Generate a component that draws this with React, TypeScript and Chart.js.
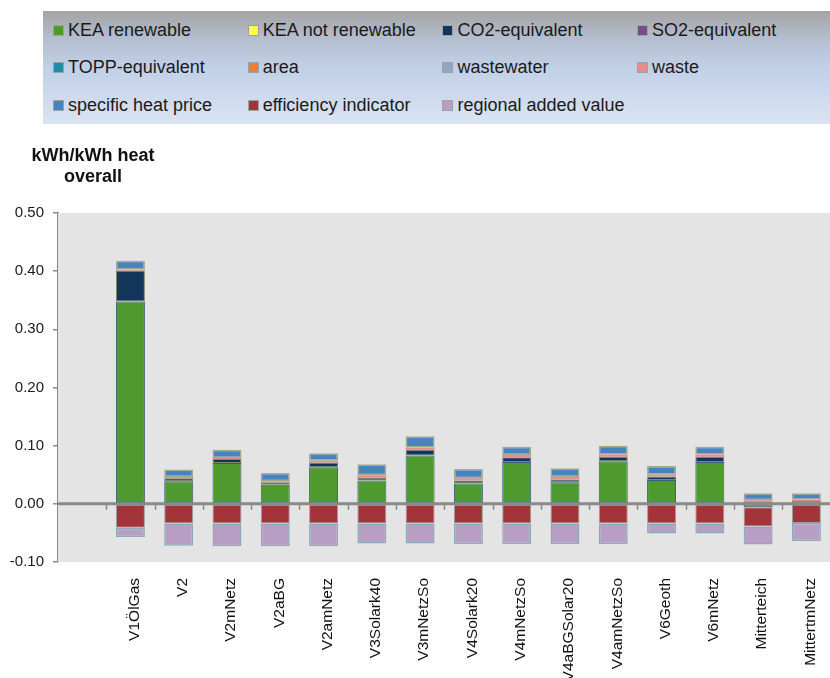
import React, { useEffect, useRef } from "react";
import { Chart, registerables } from "chart.js";

Chart.register(...registerables);

const FONT = "'Liberation Sans', Arial, Helvetica, sans-serif";

const categories = [
  "",
  "V1ÖlGas",
  "V2",
  "V2mNetz",
  "V2aBG",
  "V2amNetz",
  "V3Solark40",
  "V3mNetzSo",
  "V4Solark20",
  "V4mNetzSo",
  "V4aBGSolar20",
  "V4amNetzSo",
  "V6Geoth",
  "V6mNetz",
  "Mitterteich",
  "MittertmNetz",
];

const keaRenewable = [null, 0.348, 0.039, 0.07, 0.033, 0.063, 0.04, 0.083, 0.035, 0.072, 0.037, 0.073, 0.041, 0.072, -0.006, 0.002];
const keaNotRenewable = [null, 0, 0, 0, 0, 0, 0, 0, 0, 0, 0, 0, 0, 0, 0, 0];
const co2Equivalent = [null, 0.053, 0.005, 0.007, 0.004, 0.008, 0.005, 0.01, 0.005, 0.008, 0.005, 0.008, 0.006, 0.009, 0.003, 0.003];
const so2Equivalent = [null, 0, 0, 0, 0, 0, 0, 0, 0, 0, 0, 0, 0, 0, 0, 0];
const toppEquivalent = [null, 0, 0, 0, 0, 0, 0, 0, 0, 0, 0, 0, 0, 0, 0, 0];
const area = [null, 0, 0, 0, 0, 0, 0, 0, 0, 0, 0, 0, 0, 0, 0, 0];
const wastewater = [null, 0, 0, 0, 0, 0, 0, 0, 0, 0, 0, 0, 0, 0, 0, 0];
const waste = [null, 0.002, 0.002, 0.002, 0.002, 0.003, 0.004, 0.004, 0.004, 0.004, 0.004, 0.004, 0.003, 0.004, 0.003, 0.002];
const specificHeatPrice = [null, 0.015, 0.013, 0.014, 0.014, 0.013, 0.019, 0.019, 0.016, 0.014, 0.015, 0.015, 0.015, 0.013, 0.012, 0.011];
const efficiencyIndicator = [null, -0.041, -0.034, -0.034, -0.034, -0.034, -0.034, -0.034, -0.034, -0.034, -0.034, -0.034, -0.034, -0.034, -0.033, -0.033];
const regionalAddedValue = [null, -0.016, -0.038, -0.039, -0.039, -0.039, -0.034, -0.034, -0.035, -0.035, -0.035, -0.035, -0.017, -0.017, -0.031, -0.031];

const seriesNames = [
  "KEA renewable",
  "KEA not renewable",
  "CO2-equivalent",
  "SO2-equivalent",
  "TOPP-equivalent",
  "area",
  "wastewater",
  "waste",
  "specific heat price",
  "efficiency indicator",
  "regional added value",
];
const seriesValues = [
  keaRenewable,
  keaNotRenewable,
  co2Equivalent,
  so2Equivalent,
  toppEquivalent,
  area,
  wastewater,
  waste,
  specificHeatPrice,
  efficiencyIndicator,
  regionalAddedValue,
];
const seriesColors = [
  "#4e9a2f",
  "#ffff4a",
  "#12365a",
  "#774c8a",
  "#1f8fa3",
  "#e87f3b",
  "#8ea6c6",
  "#e58e8c",
  "#4683bf",
  "#a3353a",
  "#b89dc5",
];
const seriesBorders = [
  "#3f5f78",
  "#b5b58a",
  "#7f8a6a",
  "#939c7c",
  "#939c7c",
  "#939c7c",
  "#939c7c",
  "#d8a0a0",
  "#a3ab88",
  "#9a9ca4",
  "#8aacb6",
];
const seriesBorderWidths = [1, 0, 1, 0, 0, 0, 0, 0, 1.5, 1, 1.5];

const yTicks = [-0.1, 0.0, 0.1, 0.2, 0.3, 0.4, 0.5];
const yAxisTitle = ["kWh/kWh heat", "overall"];

const plotBgPlugin = {
  id: "plotBg",
  beforeDatasetsDraw(chart: any) {
    const { ctx, chartArea } = chart;
    ctx.save();
    ctx.fillStyle = "#e4e4e4";
    ctx.fillRect(chartArea.left, chartArea.top, chartArea.right - chartArea.left, chartArea.bottom - chartArea.top);
    ctx.restore();
  },
};

const zeroLinePlugin = {
  id: "zeroLine",
  afterDatasetsDraw(chart: any) {
    const { ctx, chartArea } = chart;
    const x = chart.scales.x;
    const y = chart.scales.y;
    const y0 = y.getPixelForValue(0);
    ctx.save();
    ctx.strokeStyle = "#8a8a8a";
    ctx.lineWidth = 1.5;
    const half = (x.getPixelForValue(1) - x.getPixelForValue(0)) / 2;
    for (let i = 1; i < categories.length; i++) {
      const px = Math.round(x.getPixelForValue(i) - half) + 0.5;
      ctx.beginPath();
      ctx.moveTo(px, y0);
      ctx.lineTo(px, y0 + 6);
      ctx.stroke();
    }
    ctx.lineWidth = 3;
    ctx.beginPath();
    ctx.moveTo(chartArea.left, y0);
    ctx.lineTo(chartArea.right, y0);
    ctx.stroke();
    ctx.restore();
  },
};

export default function App() {
  const canvasRef = useRef<HTMLCanvasElement | null>(null);

  useEffect(() => {
    if (!canvasRef.current) return;
    Chart.defaults.font.family = FONT;
    const chart = new Chart(canvasRef.current, {
      type: "bar",
      data: {
        labels: categories,
        datasets: seriesNames.map((name, i) => ({
          label: name,
          data: seriesValues[i] as any,
          backgroundColor: seriesColors[i],
          borderColor: seriesBorders[i],
          borderWidth: seriesBorderWidths[i],
          borderSkipped: false,
          barPercentage: 0.6,
          categoryPercentage: 1,
        })),
      },
      options: {
        responsive: false,
        animation: false,
        devicePixelRatio: 1,
        layout: { padding: { top: 213, left: 0, right: 0, bottom: 0 } },
        plugins: {
          legend: { display: false },
          tooltip: { enabled: false },
          title: { display: false },
        },
        scales: {
          x: {
            stacked: true,
            offset: true,
            grid: { display: false, drawTicks: false },
            border: { display: false },
            ticks: {
              autoSkip: false,
              maxRotation: 90,
              minRotation: 90,
              padding: 16,
              labelOffset: 4,
              color: "#111",
              font: { size: 15.5, family: FONT },
            },
            afterFit(scale: any) {
              scale.height = 116;
            },
          },
          y: {
            stacked: true,
            min: -0.1,
            max: 0.5,
            afterBuildTicks(scale: any) {
              scale.ticks = yTicks.map((v) => ({ value: v }));
            },
            grid: {
              drawOnChartArea: false,
              drawTicks: true,
              tickLength: 5,
              color: "#8a8a8a",
              lineWidth: 1.5,
            },
            border: { display: true, color: "#8a8a8a", width: 2 },
            ticks: {
              padding: 9,
              color: "#1a1a1a",
              font: { size: 15, family: FONT },
              callback: (v: any) => Number(v).toFixed(2),
            },
            afterFit(scale: any) {
              scale.width = 58;
            },
          },
        },
      },
      plugins: [plotBgPlugin, zeroLinePlugin],
    });
    return () => chart.destroy();
  }, []);

  return (
    <div
      style={{
        position: "absolute",
        left: 0,
        top: 0,
        width: 830,
        height: 678,
        overflow: "hidden",
        background: "#fff",
      }}
    >
      <canvas
        ref={canvasRef}
        width={841}
        height={678}
        style={{ position: "absolute", left: 0, top: 0, width: 841, height: 678 }}
      />
      <div
        style={{
          position: "absolute",
          left: 43,
          top: 11,
          width: 810,
          height: 113,
          background:
            "linear-gradient(to bottom, #a3a3a3 0%, #b3bccb 22%, #c0cfe6 48%, #cbd8ec 70%, #dae3f1 100%)",
          fontFamily: FONT,
          fontSize: 18,
          color: "#1a1a1a",
        }}
      >
        {seriesNames.map((name, i) => {
          const col = i % 4;
          const row = Math.floor(i / 4);
          return (
            <div
              key={name}
              style={{
                position: "absolute",
                left: 10 + col * 194.7,
                top: 19 + row * 37.5 - 11,
                height: 22,
                display: "flex",
                alignItems: "center",
                whiteSpace: "nowrap",
              }}
            >
              <span
                style={{
                  display: "inline-block",
                  width: 9,
                  height: 9,
                  background: seriesColors[i],
                  border: "1px solid #9aa3a8",
                  marginRight: 4,
                }}
              />
              <span>{name}</span>
            </div>
          );
        })}
      </div>
      <div
        style={{
          position: "absolute",
          left: 13,
          top: 145,
          width: 160,
          textAlign: "center",
          fontFamily: FONT,
          fontWeight: "bold",
          fontSize: 18,
          lineHeight: "21px",
          color: "#111",
        }}
      >
        {yAxisTitle.map((t) => (
          <div key={t}>{t}</div>
        ))}
      </div>
    </div>
  );
}
